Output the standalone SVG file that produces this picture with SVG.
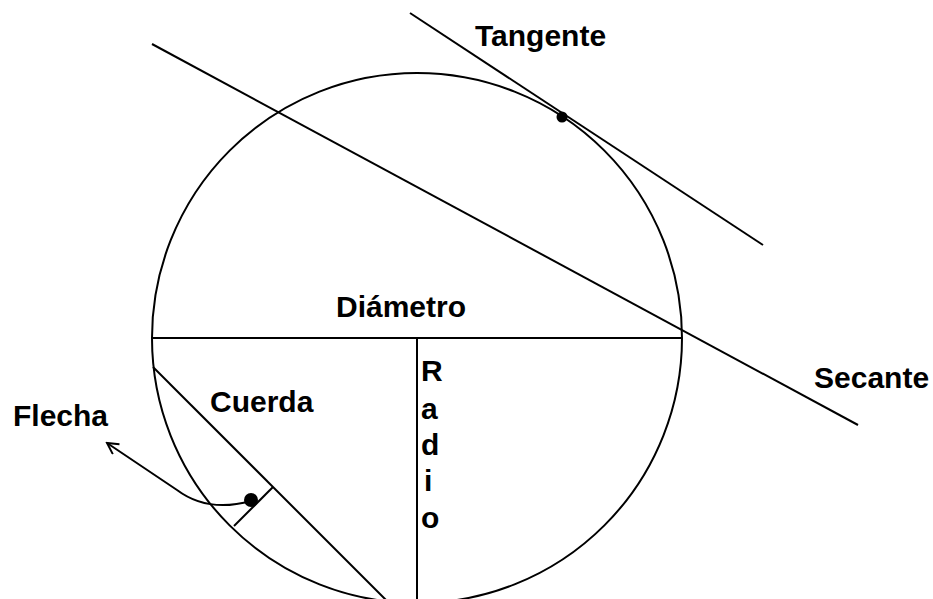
<svg xmlns="http://www.w3.org/2000/svg" width="933" height="599" viewBox="0 0 933 599">
<style>
.ln{stroke:#000;stroke-width:2;fill:none}
.lbl{font-family:"Liberation Sans",Arial,sans-serif;font-weight:bold;font-size:30px;fill:#000}
</style>
<defs>
<marker id="arr" markerWidth="14" markerHeight="14" refX="12" refY="7" orient="auto" markerUnits="userSpaceOnUse">
<path d="M1,1 L12,7 L1,13" fill="none" stroke="#000" stroke-width="2"/>
</marker>
</defs>
<rect width="933" height="599" fill="#fff"/>
<g id="circle">
<circle cx="417" cy="338" r="265" class="ln"/>
</g>
<g id="connectors">
<line id="secante-line" x1="152" y1="44" x2="858" y2="425" class="ln"/>
<line id="tangente-line" x1="410" y1="13" x2="763" y2="245" class="ln"/>
<line id="diametro-line" x1="153" y1="338" x2="681" y2="338" class="ln"/>
<line id="radio-line" x1="417" y1="338" x2="417" y2="599" class="ln"/>
<line id="cuerda-line" x1="153" y1="367" x2="386" y2="600" class="ln"/>
<line id="flecha-line" x1="273" y1="487" x2="234" y2="526" class="ln"/>
<path id="flecha-arrow" d="M251 501 C222 509 197 505 177 490 L107 443" class="ln" marker-end="url(#arr)"/>
</g>
<g id="points">
<circle cx="562" cy="117" r="5.5" fill="#000"/>
<circle cx="251" cy="500" r="7" fill="#000"/>
</g>
<g id="tangente"><text class="lbl" x="475" y="46">Tangente</text></g>
<g id="diametro"><text class="lbl" x="336" y="317">Diámetro</text></g>
<g id="secante"><text class="lbl" x="814" y="388">Secante</text></g>
<g id="flecha"><text class="lbl" x="13" y="426">Flecha</text></g>
<g id="cuerda"><text class="lbl" x="210" y="412">Cuerda</text></g>
<g id="radio">
<text class="lbl" x="421" y="381">R</text>
<text class="lbl" x="421" y="419">a</text>
<text class="lbl" x="421" y="455">d</text>
<text class="lbl" x="424" y="491">i</text>
<text class="lbl" x="421" y="528">o</text>
</g>
</svg>
